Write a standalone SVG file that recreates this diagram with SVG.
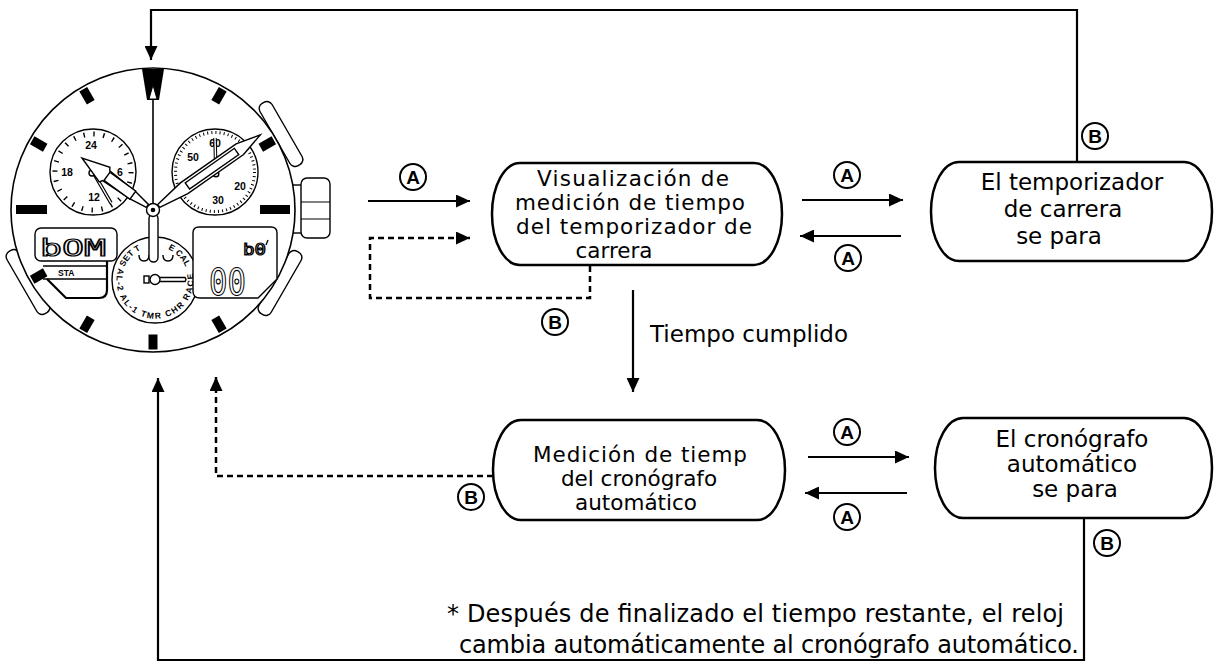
<svg xmlns="http://www.w3.org/2000/svg" xmlns:xlink="http://www.w3.org/1999/xlink" width="1225" height="667" viewBox="0 0 1225 667">
  <style>
    .ln { fill: none; stroke: #000; stroke-width: 2.2; }
    .dash { stroke-dasharray: 6 4; stroke-width: 2.5; }
    .node { fill: #fff; stroke: #000; stroke-width: 2.5; }
    .t { font-family: "DejaVu Sans", "Liberation Sans", sans-serif; font-size: 23px; text-anchor: middle; fill: #000; }
    .tc { font-size: 21.5px; }
    .note { font-family: "DejaVu Sans", "Liberation Sans", sans-serif; font-size: 24px; fill: #000; }
    .lab circle { fill: #fff; stroke: #000; stroke-width: 2; }
    .lab text { font-family: "Liberation Sans", Arial, sans-serif; font-weight: bold; font-size: 19px; text-anchor: middle; }
    .wl { fill: #fff; stroke: #000; stroke-width: 1.4; }
    .wn { font-family: "Liberation Sans", Arial, sans-serif; font-weight: bold; font-size: 10.5px; text-anchor: middle; }
    .ws { font-family: "Liberation Sans", Arial, sans-serif; font-weight: bold; font-size: 8.5px; }
    .seg { font-family: "DejaVu Sans Mono", "Liberation Mono", monospace; fill: #fff; stroke: #000; stroke-width: 1.2; }
  </style>
  <defs>
    <marker id="ah" markerUnits="userSpaceOnUse" markerWidth="14" markerHeight="13" refX="14" refY="6.5" orient="auto">
      <path d="M0,0 L14,6.5 L0,13 Z" fill="#000"/>
    </marker>
    <rect id="mk" x="148.5" y="70.5" width="9" height="15" fill="#000"/>
    <path id="arcTop" d="M 124.5,267 A 33 33 0 0 1 185.5,267"/>
    <path id="arcBot" d="M 118.5,268 A 38.5 38.5 0 1 0 191.5,268"/>
  </defs>

  <!-- watch face -->
  <g id="watch">
    <!-- side buttons and crown -->
    <rect class="wl" x="-7" y="-36" width="14" height="72" rx="6" transform="translate(281 134) rotate(-30)"/>
    <rect class="wl" x="-7" y="-36" width="14" height="72" rx="6" transform="translate(280 283) rotate(30)"/>
    <rect class="wl" x="-7" y="-36" width="14" height="72" rx="6" transform="translate(28 282) rotate(-30)"/>
    <rect class="wl" x="288" y="185" width="16" height="48"/>
    <rect class="wl" x="301" y="178" width="29" height="60" rx="6"/>
    <line x1="301" y1="202" x2="330" y2="202" stroke="#000" stroke-width="1"/>
    <line x1="301" y1="219" x2="330" y2="219" stroke="#000" stroke-width="1"/>
    <!-- case -->
    <circle cx="153" cy="210" r="142" fill="#fff" stroke="#000" stroke-width="1.6"/>
    <!-- hour markers -->
    <polygon points="142,69 164,69 159,100 147,100" fill="#000"/>
    <use xlink:href="#mk" transform="rotate(30 153 210)"/>
    <use xlink:href="#mk" transform="rotate(60 153 210)"/>
    <use xlink:href="#mk" transform="rotate(120 153 210)"/>
    <use xlink:href="#mk" transform="rotate(150 153 210)"/>
    <use xlink:href="#mk" transform="rotate(180 153 210)"/>
    <use xlink:href="#mk" transform="rotate(210 153 210)"/>
    <use xlink:href="#mk" transform="rotate(240 153 210)"/>
    <use xlink:href="#mk" transform="rotate(300 153 210)"/>
    <use xlink:href="#mk" transform="rotate(330 153 210)"/>
    <rect x="260" y="205" width="30" height="9" fill="#000"/>
    <rect x="16" y="205" width="31" height="9" fill="#000"/>

    <!-- 24-hour subdial -->
    <circle class="wl" cx="93" cy="172" r="43"/>
    <circle cx="93" cy="172" r="38" fill="none" stroke="#000" stroke-width="5" stroke-dasharray="1.4 8.55"/>
    <text class="wn" x="91" y="149">24</text>
    <text class="wn" x="67" y="176">18</text>
    <text class="wn" x="120" y="176">6</text>
    <text class="wn" x="94" y="201">12</text>
    <line x1="93" y1="172" x2="111" y2="203" stroke="#000" stroke-width="3.5"/>
    <line x1="93" y1="172" x2="111" y2="203" stroke="#fff" stroke-width="1.4"/>
    <circle class="wl" cx="92" cy="173" r="3" stroke-width="1.2"/>

    <!-- seconds subdial -->
    <circle class="wl" cx="215" cy="172" r="43"/>
    <circle cx="215" cy="172" r="39.5" fill="none" stroke="#000" stroke-width="3" stroke-dasharray="1 3.14"/>
    <text class="wn" x="193" y="161">50</text>
    <text class="wn" x="240" y="190">20</text>
    <text class="wn" x="218" y="204">30</text>
    <text class="wn" x="215" y="147">60</text>
    <line x1="216" y1="176" x2="215" y2="138" stroke="#000" stroke-width="3.5"/>
    <line x1="216" y1="176" x2="215" y2="138" stroke="#fff" stroke-width="1.4"/>
    <circle class="wl" cx="216" cy="174" r="2.8" stroke-width="1.2"/>

    <!-- mode subdial -->
    <circle class="wl" cx="155" cy="280" r="43"/>
    <text class="ws"><textPath xlink:href="#arcTop" startOffset="0">SET T</textPath></text>
    <text class="ws" text-anchor="end"><textPath xlink:href="#arcTop" startOffset="100%">E CAL</textPath></text>
    <text class="ws"><textPath xlink:href="#arcBot" textLength="140" lengthAdjust="spacing">AL-2  AL-1  TMR  CHR RACE</textPath></text>
    <path d="M139,255 q0,6 5,6 q5,0 5,-6" class="wl" stroke-width="1.2"/>
    <path d="M163,255 q0,6 5,6 q5,0 5,-6" class="wl" stroke-width="1.2"/>
    <rect class="wl" x="144" y="276" width="5" height="7" stroke-width="1.2"/>
    <path d="M158,277.5 H185 L186,279.5 L185,281.5 H158 Z" class="wl" stroke-width="1.2"/>
    <circle class="wl" cx="155" cy="279.5" r="5" stroke-width="1.3"/>

    <!-- left display -->
    <rect class="wl" x="35" y="228" width="82" height="33" rx="6"/>
    <text class="seg" x="40" y="256" font-size="23" textLength="66" lengthAdjust="spacingAndGlyphs">bOM</text>
    <line x1="43" y1="266" x2="107" y2="266" stroke="#000" stroke-width="1.3"/>
    <line x1="43" y1="279" x2="107" y2="279" stroke="#000" stroke-width="1.3"/>
    <text class="ws" x="58" y="276" font-size="7.5">STA</text>
    <path d="M107,261 V290 Q107,298 99,298 H66 L47,279" class="ln" stroke-width="1.4"/>

    <!-- right display -->
    <path d="M199,227 H271 Q277,227 277,233 V279 L258,298 H200 Q193,298 193,291 V233 Q193,227 199,227 Z" class="wl"/>
    <text class="seg" x="243" y="255" font-size="16" textLength="23" lengthAdjust="spacingAndGlyphs">b0</text>
    <line x1="268" y1="240" x2="266" y2="245" stroke="#000" stroke-width="1.3"/>
    <text class="seg" x="209" y="295" font-size="38" textLength="37" lengthAdjust="spacingAndGlyphs">00</text>

    <!-- hands -->
    <g transform="translate(153 210) rotate(216.2)">
      <polygon class="wl" points="7,-1.8 24,-4.5 58,-6 60,-9 88,0 60,9 58,6 24,4.5 7,1.8"/>
      <rect class="wl" x="25" y="-5" width="32" height="10" stroke-width="1.2"/>
    </g>
    <g transform="translate(153 210) rotate(-35)">
      <polygon class="wl" points="7,-1.8 38,-6.5 106,-6.5 131,0 106,6.5 38,6.5 7,1.8"/>
      <rect class="wl" x="42" y="-3.8" width="60" height="7.6" stroke-width="1.2"/>
    </g>
    <line x1="153" y1="206" x2="153" y2="97" stroke="#000" stroke-width="1.6"/>
    <polygon points="153,85 149,99 157,99" fill="#fff" stroke="#000" stroke-width="1"/>
    <rect class="wl" x="149" y="214" width="9" height="48" rx="4.5"/>
    <circle class="wl" cx="153" cy="210" r="6.5" stroke-width="1.6"/>
    <circle cx="153" cy="210" r="2.3" fill="#000"/>
  </g>

  <!-- connectors -->
  <g id="connectors">
    <path class="ln" d="M1077,162 V10 H151 V60" marker-end="url(#ah)"/>
    <path class="ln" d="M368,201 H470" marker-end="url(#ah)"/>
    <path class="ln dash" d="M590,266 V298 H370 V238 H470" marker-end="url(#ah)"/>
    <path class="ln" d="M802,200 H903" marker-end="url(#ah)"/>
    <path class="ln" d="M901,236 H800" marker-end="url(#ah)"/>
    <path class="ln" d="M633,290 V392" marker-end="url(#ah)"/>
    <path class="ln" d="M808,457 H909" marker-end="url(#ah)"/>
    <path class="ln" d="M907,493 H805" marker-end="url(#ah)"/>
    <path class="ln" d="M1084,518 V660 H158 V378" marker-end="url(#ah)"/>
    <path class="ln dash" d="M493,476 H216 V377" marker-end="url(#ah)"/>
  </g>

  <!-- connector labels -->
  <g id="labels" class="lab">
    <g><circle cx="413" cy="177" r="13"/><text x="413" y="183.7">A</text></g>
    <g><circle cx="847" cy="175" r="13"/><text x="847" y="181.7">A</text></g>
    <g><circle cx="848" cy="258" r="13"/><text x="848" y="264.7">A</text></g>
    <g><circle cx="555" cy="322" r="13"/><text x="555" y="328.7">B</text></g>
    <g><circle cx="1095" cy="136" r="13"/><text x="1095" y="142.7">B</text></g>
    <g><circle cx="847" cy="432" r="13"/><text x="847" y="438.7">A</text></g>
    <g><circle cx="847" cy="517" r="13"/><text x="847" y="523.7">A</text></g>
    <g><circle cx="471" cy="497" r="13"/><text x="471" y="503.7">B</text></g>
    <g><circle cx="1107" cy="543" r="13"/><text x="1107" y="549.7">B</text></g>
  </g>

  <!-- state nodes -->
  <g id="node-race-timer">
    <path class="node" d="M520,163 H754 A28 51 0 0 1 754,265 H520 A28 51 0 0 1 520,163 Z"/>
    <text class="t tc" x="633" y="186" textLength="192">Visualización de</text>
    <text class="t tc" x="630" y="210" textLength="230">medición de tiempo</text>
    <text class="t tc" x="634" y="234" textLength="236">del temporizador de</text>
    <text class="t tc" x="614" y="258">carrera</text>
  </g>
  <g id="node-timer-stopped">
    <path class="node" d="M959,162 H1184 A28 49.5 0 0 1 1184,261 H959 A28 49.5 0 0 1 959,162 Z"/>
    <text class="t" x="1072" y="190">El temporizador</text>
    <text class="t" x="1063" y="217">de carrera</text>
    <text class="t" x="1059" y="244">se para</text>
  </g>
  <g id="node-auto-chrono">
    <path class="node" d="M521,420 H757 A28 50 0 0 1 757,520 H521 A28 50 0 0 1 521,420 Z"/>
    <text class="t tc" x="640" y="462" textLength="214">Medición de tiemp</text>
    <text class="t tc" x="639" y="486">del cronógrafo</text>
    <text class="t tc" x="636" y="510">automático</text>
  </g>
  <g id="node-chrono-stopped">
    <path class="node" d="M963,418 H1184 A28 50 0 0 1 1184,518 H963 A28 50 0 0 1 963,418 Z"/>
    <text class="t" x="1072" y="447">El cronógrafo</text>
    <text class="t" x="1072" y="472">automático</text>
    <text class="t" x="1075" y="497">se para</text>
  </g>

  <!-- transition caption and footnote -->
  <text class="t" x="650" y="342" style="text-anchor:start">Tiempo cumplido</text>
  <text class="note" x="447" y="622" textLength="617" lengthAdjust="spacing">* Después de finalizado el tiempo restante, el reloj</text>
  <text class="note" x="459" y="653" textLength="620" lengthAdjust="spacing">cambia automáticamente al cronógrafo automático.</text>
</svg>
